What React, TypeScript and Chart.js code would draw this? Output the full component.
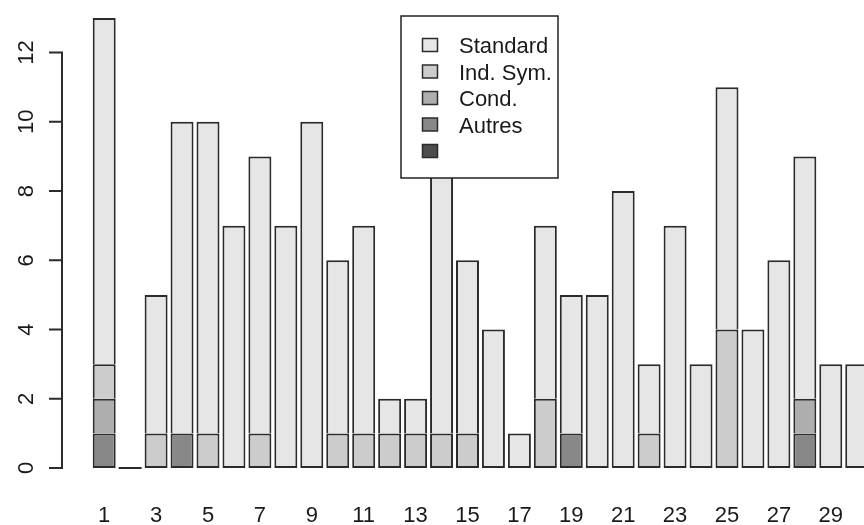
import { useEffect, useRef } from "react";
import { Chart, registerables } from "chart.js";

Chart.register(...registerables);

// ---- data ----
const barIds = [1, 2, 3, 4, 5, 6, 7, 8, 9, 10, 11, 12, 13, 14, 15, 16, 17, 18, 19, 20, 21, 22, 23, 24, 25, 26, 27, 28, 29, 30];
const xTickValues = [1, 3, 5, 7, 9, 11, 13, 15, 17, 19, 21, 23, 25, 27, 29];
const yTickValues = [0, 2, 4, 6, 8, 10, 12];

const unnamedValues = [0, 0, 0, 0, 0, 0, 0, 0, 0, 0, 0, 0, 0, 0, 0, 0, 0, 0, 0, 0, 0, 0, 0, 0, 0, 0, 0, 0, 0, 0];
const autresValues = [1, 0, 0, 1, 0, 0, 0, 0, 0, 0, 0, 0, 0, 0, 0, 0, 0, 0, 1, 0, 0, 0, 0, 0, 0, 0, 0, 1, 0, 0];
const condValues = [1, 0, 0, 0, 0, 0, 0, 0, 0, 0, 0, 0, 0, 0, 0, 0, 0, 0, 0, 0, 0, 0, 0, 0, 0, 0, 0, 1, 0, 0];
const indSymValues = [1, 0, 1, 0, 1, 0, 1, 0, 0, 1, 1, 1, 1, 1, 1, 0, 0, 2, 0, 0, 0, 1, 0, 0, 4, 0, 0, 0, 0, 0];
const standardValues = [10, 0, 4, 9, 9, 7, 8, 7, 10, 5, 6, 1, 1, 9, 5, 4, 1, 5, 4, 5, 8, 2, 7, 3, 7, 4, 6, 7, 3, 3];

// stacked bottom -> top
const seriesNames = ["", "Autres", "Cond.", "Ind. Sym.", "Standard"];
const seriesValues = [unnamedValues, autresValues, condValues, indSymValues, standardValues];
const seriesColors = ["#4D4D4D", "#888888", "#AEAEAE", "#CCCCCC", "#E6E6E6"];

const FONT = "'Liberation Sans', Arial, sans-serif";
const INK = "#1a1a1a";
const EDGE = "#2b2b2b";

const rAxisPlugin = {
  id: "rAxis",
  afterDraw(chart: any) {
    const ctx = chart.ctx;
    const y = chart.scales.y;
    const left = chart.chartArea.left;
    ctx.save();
    ctx.strokeStyle = EDGE;
    ctx.lineWidth = 2;
    ctx.beginPath();
    ctx.moveTo(left, y.getPixelForValue(yTickValues[0]) + 1);
    ctx.lineTo(left, y.getPixelForValue(yTickValues[yTickValues.length - 1]) - 1);
    for (const v of yTickValues) {
      const py = y.getPixelForValue(v);
      ctx.moveTo(left + 1, py);
      ctx.lineTo(left - 13, py);
    }
    ctx.stroke();
    ctx.fillStyle = INK;
    ctx.font = `22px ${FONT}`;
    ctx.textAlign = "center";
    ctx.textBaseline = "alphabetic";
    for (const v of yTickValues) {
      const py = y.getPixelForValue(v);
      ctx.save();
      ctx.translate(32.5, py);
      ctx.rotate(-Math.PI / 2);
      ctx.fillText(String(v), 0, 0);
      ctx.restore();
    }
    ctx.restore();
  },
};

const zeroBarPlugin = {
  id: "zeroBar",
  afterDatasetsDraw(chart: any) {
    const ctx = chart.ctx;
    const y0 = chart.scales.y.getPixelForValue(0);
    const meta = chart.getDatasetMeta(0);
    ctx.save();
    ctx.strokeStyle = EDGE;
    ctx.lineWidth = 2;
    barIds.forEach((_, i) => {
      const total = seriesValues.reduce((s, arr) => s + arr[i], 0);
      if (total === 0) {
        const el = meta.data[i];
        ctx.beginPath();
        ctx.moveTo(el.x - el.width / 2, y0);
        ctx.lineTo(el.x + el.width / 2, y0);
        ctx.stroke();
      }
    });
    ctx.restore();
  },
};

const boxLegendPlugin = {
  id: "boxLegend",
  afterDraw(chart: any) {
    const ctx = chart.ctx;
    const boxL = 401, boxT = 16, boxW = 157, boxH = 162;
    ctx.save();
    ctx.fillStyle = "#ffffff";
    ctx.fillRect(boxL, boxT, boxW, boxH);
    ctx.strokeStyle = "#222222";
    ctx.lineWidth = 1.5;
    ctx.strokeRect(boxL, boxT, boxW, boxH);
    ctx.font = `22px ${FONT}`;
    ctx.textAlign = "left";
    ctx.textBaseline = "alphabetic";
    const order = [4, 3, 2, 1, 0];
    order.forEach((d, k) => {
      const cy = 45 + k * 26.5;
      ctx.fillStyle = seriesColors[d];
      ctx.fillRect(422.5, cy - 6.5, 15, 13);
      ctx.strokeStyle = EDGE;
      ctx.lineWidth = 1.5;
      ctx.strokeRect(422.5, cy - 6.5, 15, 13);
      ctx.fillStyle = INK;
      ctx.fillText(seriesNames[d], 459, cy + 8);
    });
    ctx.restore();
  },
};

export default function App() {
  const canvasRef = useRef<HTMLCanvasElement | null>(null);

  useEffect(() => {
    document.body.style.margin = "0";
    document.body.style.overflow = "hidden";
    const canvas = canvasRef.current;
    if (!canvas) return;

    const datasets = seriesValues.map((vals, d) => ({
      label: seriesNames[d],
      data: vals.map((v, i) => ({ x: barIds[i], y: v })),
      backgroundColor: seriesColors[d],
      borderColor: EDGE,
      borderWidth: 2,
      borderSkipped: (ctx: any) => {
        const i = ctx.dataIndex;
        let below = 0;
        for (let k = 0; k < d; k++) below += seriesValues[k][i];
        return below > 0 ? "start" : false;
      },
      barPercentage: 1,
      categoryPercentage: 0.886,
    }));

    const chart = new Chart(canvas, {
      type: "bar",
      data: { datasets } as any,
      options: {
        animation: false,
        responsive: false,
        devicePixelRatio: 1,
        layout: { padding: { left: 62, right: 0, top: 0, bottom: -21 } },
        plugins: { legend: { display: false }, tooltip: { enabled: false } },
        scales: {
          x: {
            type: "linear",
            stacked: true,
            min: -0.626,
            max: 30.28,
            offset: false,
            grid: { display: false, drawTicks: false },
            border: { display: false },
            afterBuildTicks: (s: any) => {
              s.ticks = xTickValues.map((v) => ({ value: v }));
            },
            ticks: {
              autoSkip: false,
              maxRotation: 0,
              minRotation: 0,
              padding: 20,
              color: INK,
              font: { family: FONT, size: 22, lineHeight: 20 / 22 },
              callback: (v: any) => String(v),
            },
          },
          y: {
            display: false,
            stacked: true,
            min: -0.52,
            max: 13.52,
          },
        },
      } as any,
      plugins: [zeroBarPlugin, rAxisPlugin, boxLegendPlugin],
    });

    return () => chart.destroy();
  }, []);

  return (
    <div style={{ position: "absolute", left: 0, top: 0, width: 864, height: 525, background: "#fff" }}>
      <canvas ref={canvasRef} width={864} height={525} style={{ display: "block" }} />
    </div>
  );
}
